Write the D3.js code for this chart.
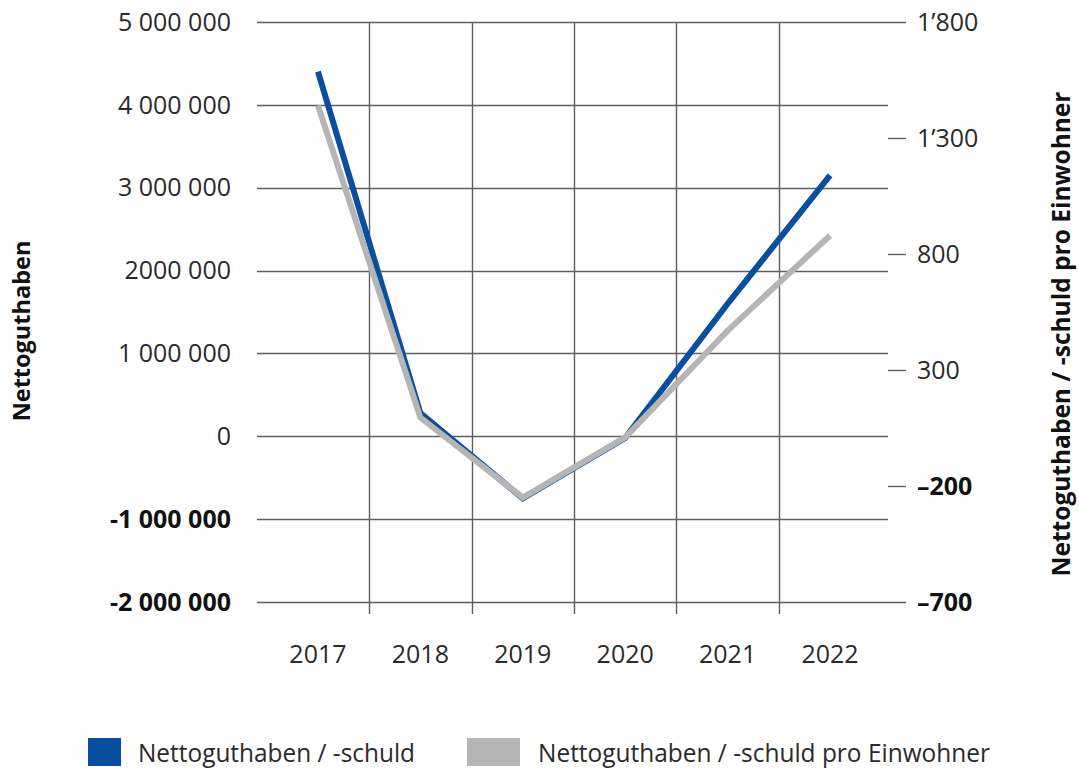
<!DOCTYPE html>
<html>
<head>
<meta charset="utf-8">
<script src="https://cdn.jsdelivr.net/npm/d3@7"></script>
<style>
  html, body { margin: 0; padding: 0; background: #fff; }
  svg { display: block; font-family: "Open Sans", "Noto Sans", sans-serif; }
</style>
</head>
<body>
<svg id="chart" width="1079" height="769"></svg>
<script>
// ---- data ----
const years = ["2017", "2018", "2019", "2020", "2021", "2022"];
const nettoguthaben = [4400000, 280000, -750000, -20000, 1600000, 3150000];
const proEinwohner = [1440, 95, -250, 10, 470, 880];
const leftTicks = [5000000, 4000000, 3000000, 2000000, 1000000, 0, -1000000, -2000000];
const leftTickLabels = ["5 000 000", "4 000 000", "3 000 000", "2000 000", "1 000 000", "0", "-1 000 000", "-2 000 000"];
const rightTicks = [1800, 1300, 800, 300, -200, -700];
const rightTickLabels = ["1\u2019800", "1\u2019300", "800", "300", "\u2013200", "\u2013700"];
const seriesNames = ["Nettoguthaben / -schuld", "Nettoguthaben / -schuld pro Einwohner"];
const leftTitle = "Nettoguthaben";
const rightTitle = "Nettoguthaben / -schuld pro Einwohner";

// ---- layout ----
const svg = d3.select("#chart");
const plotL = 266.75, plotR = 881.25, plotT = 22, plotB = 602;
const gridL = 257, gridR = 888, tickR = 906;
const gridColor = "#5e5e5e";
const blue = "#0a4f9f", gray = "#b5b5b5";

const x = d3.scaleBand().domain(years).range([plotL, plotR]);
const yL = d3.scaleLinear().domain([-2000000, 5000000]).range([plotB, plotT]);
const yR = d3.scaleLinear().domain([-700, 1800]).range([plotB, plotT]);

// vertical gridlines (band boundaries)
svg.append("g").selectAll("line")
  .data(years.slice(1))
  .join("line")
  .attr("x1", d => Math.round(x(d)) + 0.5)
  .attr("x2", d => Math.round(x(d)) + 0.5)
  .attr("y1", plotT).attr("y2", plotB + 12)
  .attr("stroke", gridColor).attr("stroke-width", 1.4);

// horizontal gridlines
svg.append("g").selectAll("line")
  .data(leftTicks)
  .join("line")
  .attr("x1", gridL)
  .attr("x2", (d, i) => (i === 0 || i === leftTicks.length - 1) ? tickR : gridR)
  .attr("y1", d => Math.round(yL(d)) + 0.5)
  .attr("y2", d => Math.round(yL(d)) + 0.5)
  .attr("stroke", gridColor).attr("stroke-width", 1.4);

// right tick marks
svg.append("g").selectAll("line")
  .data(rightTicks.slice(1, -1))
  .join("line")
  .attr("x1", gridR).attr("x2", tickR)
  .attr("y1", d => Math.round(yR(d)) + 0.5)
  .attr("y2", d => Math.round(yR(d)) + 0.5)
  .attr("stroke", gridColor).attr("stroke-width", 1.4);

// left tick labels
svg.append("g").selectAll("text")
  .data(leftTicks)
  .join("text")
  .attr("x", 231)
  .attr("y", d => yL(d))
  .attr("dy", "0.35em")
  .attr("text-anchor", "end")
  .attr("font-size", 25)
  .attr("font-weight", d => d < 0 ? 700 : 400)
  .attr("fill", d => d < 0 ? "#111" : "#2a2a2a")
  .text((d, i) => leftTickLabels[i]);

// right tick labels
svg.append("g").selectAll("text")
  .data(rightTicks)
  .join("text")
  .attr("x", 917)
  .attr("y", d => yR(d))
  .attr("dy", "0.35em")
  .attr("text-anchor", "start")
  .attr("font-size", 25)
  .attr("font-weight", d => d < 0 ? 700 : 400)
  .attr("fill", d => d < 0 ? "#111" : "#2a2a2a")
  .text((d, i) => rightTickLabels[i]);

// x labels
svg.append("g").selectAll("text")
  .data(years)
  .join("text")
  .attr("x", d => x(d) + x.bandwidth() / 2)
  .attr("y", 663)
  .attr("text-anchor", "middle")
  .attr("font-size", 25)
  .attr("fill", "#2a2a2a")
  .text(d => d);

// axis titles
svg.append("text")
  .attr("transform", `translate(30,${(plotT + plotB) / 2 + 19}) rotate(-90)`)
  .attr("text-anchor", "middle")
  .attr("font-size", 23.5).attr("font-weight", 700).attr("fill", "#111")
  .text(leftTitle);

svg.append("text")
  .attr("transform", `translate(1070,${(plotT + plotB) / 2 + 22}) rotate(-90)`)
  .attr("text-anchor", "middle")
  .attr("font-size", 24.5).attr("font-weight", 700).attr("fill", "#111")
  .text(rightTitle);

// lines
const cx = d => x(d) + x.bandwidth() / 2;
const lineL = d3.line().x((d, i) => cx(years[i])).y(d => yL(d));
const lineR = d3.line().x((d, i) => cx(years[i])).y(d => yR(d));

svg.append("path")
  .datum(nettoguthaben)
  .attr("d", lineL)
  .attr("fill", "none").attr("stroke", blue).attr("stroke-width", 6)
  .attr("stroke-linejoin", "miter");

svg.append("path")
  .datum(proEinwohner)
  .attr("d", lineR)
  .attr("fill", "none").attr("stroke", gray).attr("stroke-width", 6)
  .attr("stroke-linejoin", "miter");

// legend
const legend = svg.append("g");
const legendItems = [
  { name: seriesNames[0], color: blue, rx: 88, rw: 33, tx: 138, tl: 277 },
  { name: seriesNames[1], color: gray, rx: 467, rw: 53, tx: 538, tl: 452 }
];
legend.selectAll("rect")
  .data(legendItems)
  .join("rect")
  .attr("x", d => d.rx).attr("y", 738)
  .attr("width", d => d.rw).attr("height", 28)
  .attr("fill", d => d.color);
legend.selectAll("text")
  .data(legendItems)
  .join("text")
  .attr("x", d => d.tx).attr("y", 762)
  .attr("font-size", 25)
  .attr("fill", "#2a2a2a")
  .attr("textLength", d => d.tl)
  .attr("lengthAdjust", "spacingAndGlyphs")
  .text(d => d.name);
</script>
</body>
</html>
